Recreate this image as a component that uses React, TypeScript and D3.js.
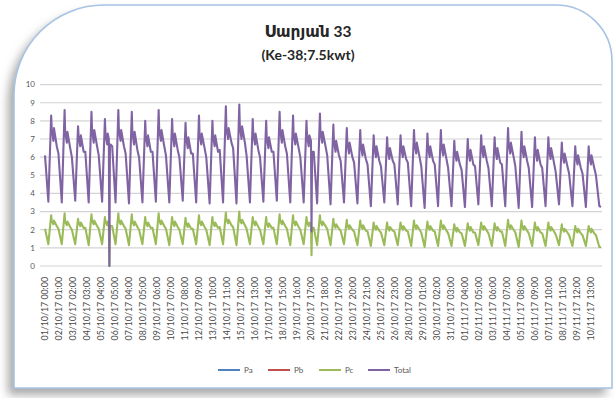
import React from "react";
import * as d3 from "d3";

// ---------- text ----------
const chartTitle = "Սարյան 33";
const chartSubtitle = "(Ke-38;7.5kwt)";

// ---------- series ----------
const seriesNames = ["Pa", "Pb", "Pc", "Total"];
const seriesColors = ["#4F81BD", "#C0504D", "#9BBB59", "#8064A2"];

// ---------- axes ----------
const yTickValues = [0, 1, 2, 3, 4, 5, 6, 7, 8, 9, 10];
const xTickLabels = [
  "01/10/17 00:00", "02/10/17 01:00", "03/10/17 02:00", "04/10/17 03:00", "05/10/17 04:00",
  "06/10/17 05:00", "07/10/17 04:00", "08/10/17 05:00", "09/10/17 06:00", "10/10/17 07:00",
  "11/10/17 08:00", "12/10/17 09:00", "13/10/17 10:00", "14/10/17 11:00", "15/10/17 12:00",
  "16/10/17 13:00", "17/10/17 14:00", "18/10/17 15:00", "19/10/17 16:00", "20/10/17 17:00",
  "21/10/17 18:00", "22/10/17 19:00", "23/10/17 20:00", "24/10/17 21:00", "25/10/17 22:00",
  "26/10/17 23:00", "28/10/17 00:00", "29/10/17 01:00", "30/10/17 02:00", "31/10/17 03:00",
  "01/11/17 04:00", "02/11/17 05:00", "03/11/17 06:00", "04/11/17 07:00", "05/11/17 08:00",
  "06/11/17 09:00", "07/11/17 10:00", "08/11/17 11:00", "09/11/17 12:00", "10/11/17 13:00",
];
const pointCount = 994; // hourly readings on the category axis
const labelEvery = 25;  // one label every 25 readings
const hoursPerDay = 24;

// hour of the day at which each daily reading below sits
const hourEve = 0;
const hourTrough = 6;
const hourPeak = 11;
const hourShoulder = 12;
const hourNotch = 15;
const hourShoulder2 = 16;
const hourLate = 21;

// ---------- Total (kW), read per day ----------
const totalEve = [6.1, 6.2, 6.0, 6.3, 6.1, 6.6, 6.2, 6.0, 6.3, 6.1, 6.0, 6.2, 6.0, 6.4, 6.5, 6.1, 6.0, 6.3, 6.2, 6.0, 6.3,
  6.1, 5.8, 5.7, 5.6, 5.5, 5.6, 5.7, 5.5, 5.6, 5.4, 5.3, 5.5, 5.4, 5.6, 5.5, 5.4, 5.4, 5.2, 5.1, 5.1, 5.0];
const totalTrough = [3.55, 3.5, 3.6, 3.5, 3.55, 3.5, 3.45, 3.5, 3.55, 3.5, 3.6, 3.5, 3.45, 3.5, 3.45, 3.5, 3.55, 3.6, 3.5, 3.5, 3.45,
  3.4, 3.5, 3.45, 3.3, 3.5, 3.4, 3.3, 3.2, 3.3, 3.3, 3.25, 3.4, 3.3, 3.3, 3.2, 3.25, 3.3, 3.4, 3.3, 3.25, 3.3];
const totalPeak = [8.3, 8.6, 7.7, 8.5, 8.1, 8.6, 8.5, 8.0, 8.6, 8.1, 7.9, 8.3, 8.0, 8.8, 8.9, 8.1, 8.0, 8.5, 8.3, 8.0, 8.4,
  7.8, 7.6, 7.5, 7.2, 7.1, 7.2, 7.5, 7.3, 7.5, 6.9, 7.0, 7.2, 7.1, 7.6, 7.4, 7.1, 7.1, 6.8, 6.6, 6.6];
const totalShoulder = [7.6, 7.4, 7.2, 7.5, 7.3, 7.5, 7.4, 7.2, 7.5, 7.3, 7.1, 7.3, 7.2, 7.6, 7.7, 7.3, 7.1, 7.5, 7.3, 7.2, 7.4,
  6.9, 6.8, 6.7, 6.6, 6.5, 6.6, 6.8, 6.6, 6.7, 6.3, 6.4, 6.6, 6.5, 6.8, 6.6, 6.4, 6.5, 6.2, 6.1, 6.1];
const totalNotch = [6.9, 6.8, 6.6, 6.8, 6.7, 6.9, 6.7, 6.6, 6.9, 6.6, 6.5, 6.7, 6.6, 7.0, 7.0, 6.7, 6.5, 6.8, 6.7, 6.6, 6.8,
  6.3, 6.2, 6.1, 6.0, 5.9, 6.0, 6.2, 6.0, 6.1, 5.8, 5.8, 6.0, 5.9, 6.2, 6.0, 5.8, 5.9, 5.7, 5.6, 5.6];
const totalLate = [6.6, 6.5, 6.3, 6.6, 6.7, 6.6, 6.4, 6.3, 6.6, 6.4, 6.2, 6.5, 6.3, 6.8, 6.8, 6.4, 6.3, 6.6, 6.5, 6.3, 6.6,
  6.1, 6.0, 5.9, 5.8, 5.8, 5.9, 6.0, 5.8, 5.9, 5.6, 5.6, 5.8, 5.7, 6.0, 5.8, 5.6, 5.7, 5.5, 5.4, 5.4];
const totalSpikes = [
  { i: 114, v: 7.0 }, { i: 115, v: 0 }, { i: 116, v: 6.7 },
  { i: 475, v: 6.9 }, { i: 476, v: 1.9 },
];
const totalLast = 3.25;

// ---------- Pc (kW), read per day ----------
const pcEve = [2.05, 2.05, 2.0, 2.1, 2.05, 2.2, 2.05, 2.0, 2.1, 2.05, 2.0, 2.05, 2.0, 2.15, 2.15, 2.05, 2.0, 2.1, 2.05, 2.0, 2.1,
  2.05, 1.95, 1.9, 1.9, 1.85, 1.9, 1.9, 1.85, 1.9, 1.8, 1.8, 1.85, 1.8, 1.9, 1.85, 1.8, 1.8, 1.75, 1.7, 1.7, 1.7];
const pcTrough = [1.2, 1.2, 1.2, 1.15, 1.2, 1.2, 1.15, 1.2, 1.2, 1.15, 1.2, 1.2, 1.15, 1.2, 1.15, 1.2, 1.2, 1.2, 1.15, 1.2, 1.15,
  1.15, 1.2, 1.15, 1.1, 1.15, 1.15, 1.1, 1.05, 1.1, 1.1, 1.1, 1.15, 1.1, 1.1, 1.05, 1.1, 1.1, 1.15, 1.1, 1.1, 1.05];
const pcPeak = [2.8, 2.9, 2.6, 2.85, 2.7, 2.9, 2.85, 2.7, 2.9, 2.7, 2.65, 2.8, 2.7, 2.95, 3.0, 2.7, 2.7, 2.85, 2.8, 2.7, 2.8,
  2.6, 2.55, 2.5, 2.4, 2.4, 2.4, 2.5, 2.45, 2.5, 2.3, 2.35, 2.4, 2.35, 2.55, 2.5, 2.4, 2.4, 2.3, 2.2, 2.2];
const pcShoulder = [2.5, 2.45, 2.4, 2.5, 2.45, 2.5, 2.45, 2.4, 2.5, 2.45, 2.35, 2.45, 2.4, 2.55, 2.55, 2.45, 2.35, 2.5, 2.45, 2.4, 2.45,
  2.3, 2.25, 2.25, 2.2, 2.15, 2.2, 2.25, 2.2, 2.25, 2.1, 2.15, 2.2, 2.15, 2.25, 2.2, 2.15, 2.15, 2.05, 2.05, 2.05];
const pcNotch = [2.3, 2.25, 2.2, 2.3, 2.25, 2.3, 2.25, 2.2, 2.3, 2.2, 2.15, 2.25, 2.2, 2.35, 2.35, 2.25, 2.15, 2.3, 2.25, 2.2, 2.25,
  2.1, 2.05, 2.05, 2.0, 1.95, 2.0, 2.05, 2.0, 2.05, 1.9, 1.95, 2.0, 1.95, 2.05, 2.0, 1.95, 1.95, 1.9, 1.85, 1.85];
const pcLate = [2.2, 2.15, 2.1, 2.2, 2.2, 2.2, 2.15, 2.1, 2.2, 2.15, 2.05, 2.15, 2.1, 2.25, 2.25, 2.15, 2.1, 2.2, 2.15, 2.1, 2.2,
  2.05, 2.0, 1.95, 1.95, 1.95, 1.95, 2.0, 1.95, 1.95, 1.85, 1.85, 1.95, 1.9, 2.0, 1.95, 1.85, 1.9, 1.85, 1.8, 1.8];
const pcSpikes = [
  { i: 114, v: 2.3 }, { i: 115, v: 0 }, { i: 116, v: 2.2 },
  { i: 475, v: 2.3 }, { i: 476, v: 0.6 },
];
const pcLast = 1.05;

// Pa and Pb are not visible in the reference (hidden beneath Pc)
const paPoints: { i: number; v: number }[] = [];
const pbPoints: { i: number; v: number }[] = [];

type Pt = { i: number; v: number };

function buildSeries(
  eve: number[], trough: number[], peak: number[], shoulder: number[], notch: number[], late: number[],
  spikes: Pt[], last: number
): Pt[] {
  const pts: Pt[] = [];
  for (let d = 0; d < eve.length; d++) {
    const b = d * hoursPerDay;
    pts.push({ i: b + hourEve, v: eve[d] });
    pts.push({ i: b + hourTrough, v: trough[d] });
    if (d < peak.length) {
      pts.push({ i: b + hourPeak, v: peak[d] });
      pts.push({ i: b + hourShoulder, v: shoulder[d] });
      pts.push({ i: b + hourNotch, v: notch[d] });
      pts.push({ i: b + hourShoulder2, v: shoulder[d] });
      pts.push({ i: b + hourLate, v: late[d] });
    }
  }
  spikes.forEach((s) => pts.push(s));
  pts.push({ i: pointCount - 1, v: last });
  return pts.filter((p) => p.i < pointCount).sort((a, b) => a.i - b.i);
}

const pcPoints = buildSeries(pcEve, pcTrough, pcPeak, pcShoulder, pcNotch, pcLate, pcSpikes, pcLast);
const totalPoints = buildSeries(totalEve, totalTrough, totalPeak, totalShoulder, totalNotch, totalLate, totalSpikes, totalLast);

const W = 614;
const H = 398;

export default function App() {
  const x = d3.scaleLinear().domain([0, pointCount - 1]).range([45, 601]);
  const y = d3.scaleLinear().domain([0, 10]).range([266, 84.6]);
  const line = d3.line<Pt>().x((p) => x(p.i)).y((p) => y(p.v));

  const seriesData = [paPoints, pbPoints, pcPoints, totalPoints];
  const labelIdx = xTickLabels.map((_, k) => k * labelEvery);

  const cardPath = "M14,388 L14,96 A90,90 0 0 1 104,5 L556,5 A56,56 0 0 1 612,61 L612,388 Z";
  const font = "Lato, 'DejaVu Sans', sans-serif";
  const legendX = [218, 268, 319, 368];

  return (
    <div style={{ position: "fixed", left: 0, top: 0 }}>
      <svg width={W} height={H} style={{ display: "block" }}>
        <defs>
          <filter id="shadow" x="-20%" y="-20%" width="140%" height="140%">
            <feGaussianBlur stdDeviation="5" />
          </filter>
          <filter id="soft" x="-5%" y="-5%" width="110%" height="110%">
            <feGaussianBlur stdDeviation="0.5" />
          </filter>
        </defs>
        <rect x={0} y={0} width={W} height={H} fill="#ffffff" />
        <path d={cardPath} transform="translate(-6,7)" fill="#a9a9a9" filter="url(#shadow)" />
        <path d={cardPath} fill="#ffffff" stroke="#a7c3e4" strokeWidth={1.6} />

        <text x={308} y={37} textAnchor="middle" fontFamily={font} fontWeight="bold" fontSize={15.5} fill="#262626">
          {chartTitle}
        </text>
        <text x={308} y={60} textAnchor="middle" fontFamily={font} fontWeight="bold" fontSize={14} fill="#262626">
          {chartSubtitle}
        </text>

        {yTickValues.map((t) => (
          <g key={t}>
            <line x1={40} x2={602} y1={y(t)} y2={y(t)} stroke="#d4d4d4" strokeWidth={1.2} />
            <text x={35} y={y(t) + 2.8} textAnchor="end" fontFamily={font} fontSize={8} fill="#595959">
              {t}
            </text>
          </g>
        ))}

        {labelIdx.map((idx, k) => (
          <text
            key={k}
            transform={`translate(${x(idx) + 3},277) rotate(-90)`}
            textAnchor="end"
            fontFamily={font}
            fontSize={8.8}
            fill="#4a4a4a"
          >
            {xTickLabels[k]}
          </text>
        ))}

        <g filter="url(#soft)">
          {seriesData.map((pts, s) =>
            pts.length ? (
              <path key={s} d={line(pts) || ""} fill="none" stroke={seriesColors[s]} strokeWidth={2.1} strokeLinejoin="round" />
            ) : null
          )}
        </g>

        {seriesNames.map((n, s) => (
          <g key={n}>
            <line x1={legendX[s]} x2={legendX[s] + 22} y1={370} y2={370} stroke={seriesColors[s]} strokeWidth={2} />
            <text x={legendX[s] + 26} y={372.8} fontFamily={font} fontSize={8} fill="#595959">
              {n}
            </text>
          </g>
        ))}
      </svg>
    </div>
  );
}
